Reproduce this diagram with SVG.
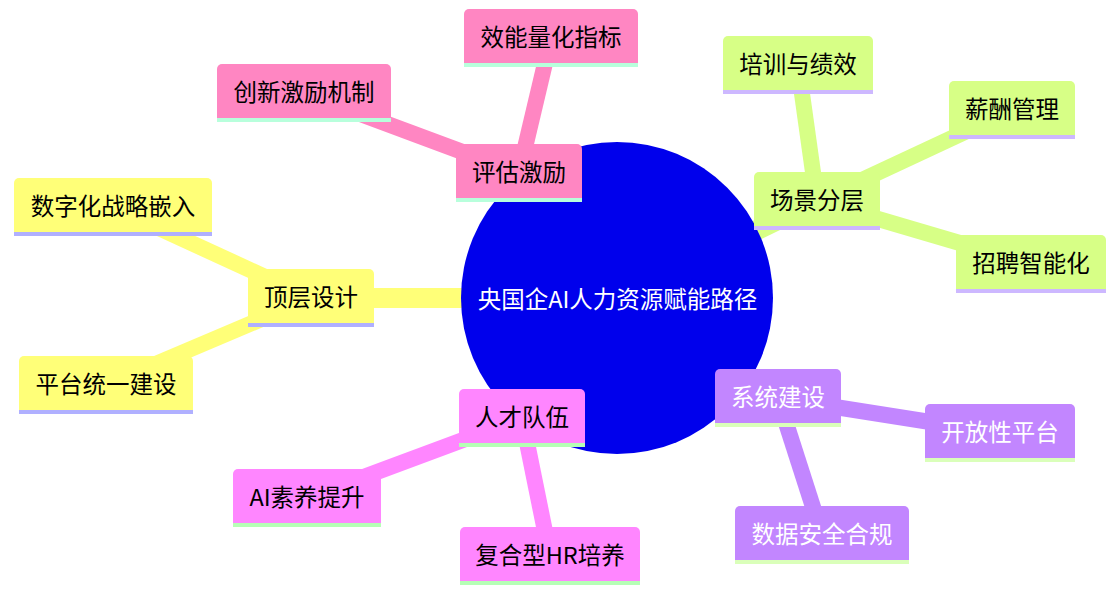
<svg xmlns="http://www.w3.org/2000/svg" width="1120" height="597" viewBox="0 0 1120 597">
<style>
.e{fill:none;stroke-linecap:butt}
.d0{stroke-width:20}
.d1{stroke-width:16}
.s0{stroke:#FFFF78}.s1{stroke:#D7FF86}.s2{stroke:#C286FF}.s3{stroke:#FF86FF}.s4{stroke:#FF86C2}
.n0 path{fill:#FFFF78}.n0 line{stroke:#B0B0FF}
.n1 path{fill:#D7FF86}.n1 line{stroke:#CDB8FF}
.n2 path{fill:#C286FF}.n2 line{stroke:#DAFFBA}
.n3 path{fill:#FF86FF}.n3 line{stroke:#B6FFB6}
.n4 path{fill:#FF86C2}.n4 line{stroke:#B8FFDC}
line{stroke-width:4}
text{font-family:"Noto Sans CJK SC","Liberation Sans",sans-serif;font-size:23.5px;text-anchor:middle;dominant-baseline:central;fill:#000}
.n2 text,.root text{fill:#fff}
</style>
<g id="connectors">
<line class="e d0 s0" x1="617" y1="298" x2="311" y2="298"/>
<line class="e d0 s1" x1="617" y1="298" x2="817" y2="201"/>
<line class="e d0 s2" x1="617" y1="298" x2="778" y2="398"/>
<line class="e d0 s3" x1="617" y1="298" x2="522" y2="418"/>
<line class="e d0 s4" x1="617" y1="298" x2="519" y2="173"/>
<line class="e d1 s0" x1="311" y1="298" x2="113" y2="207"/>
<line class="e d1 s0" x1="311" y1="298" x2="106" y2="385"/>
<line class="e d1 s1" x1="817" y1="201" x2="798" y2="65"/>
<line class="e d1 s1" x1="817" y1="201" x2="1012" y2="110"/>
<line class="e d1 s1" x1="817" y1="201" x2="1031" y2="264"/>
<line class="e d1 s2" x1="778" y1="398" x2="1000" y2="433"/>
<line class="e d1 s2" x1="778" y1="398" x2="822" y2="535"/>
<line class="e d1 s3" x1="522" y1="418" x2="307" y2="498"/>
<line class="e d1 s3" x1="522" y1="418" x2="550" y2="556"/>
<line class="e d1 s4" x1="519" y1="173" x2="551" y2="38"/>
<line class="e d1 s4" x1="519" y1="173" x2="304" y2="93"/>
</g>
<g id="root" class="root">
<circle cx="617" cy="298" r="156" fill="#0000EC"/>
<text x="617.5" y="298">央国企AI人力资源赋能路径</text>
</g>
<g id="n-dingceng" class="n0" transform="translate(248,269)">
<path d="M0,54 V5 A5,5 0 0 1 5,0 H121 A5,5 0 0 1 126,5 V54 Z"/>
<line x1="0" y1="56" x2="126" y2="56"/>
<text x="63" y="27">顶层设计</text>
</g>
<g id="n-shuzihua" class="n0" transform="translate(14,178)">
<path d="M0,54 V5 A5,5 0 0 1 5,0 H193 A5,5 0 0 1 198,5 V54 Z"/>
<line x1="0" y1="56" x2="198" y2="56"/>
<text x="99" y="27">数字化战略嵌入</text>
</g>
<g id="n-pingtai" class="n0" transform="translate(19,356)">
<path d="M0,54 V5 A5,5 0 0 1 5,0 H169 A5,5 0 0 1 174,5 V54 Z"/>
<line x1="0" y1="56" x2="174" y2="56"/>
<text x="87" y="27">平台统一建设</text>
</g>
<g id="n-changjing" class="n1" transform="translate(754,172)">
<path d="M0,54 V5 A5,5 0 0 1 5,0 H121 A5,5 0 0 1 126,5 V54 Z"/>
<line x1="0" y1="56" x2="126" y2="56"/>
<text x="63" y="27">场景分层</text>
</g>
<g id="n-peixun" class="n1" transform="translate(723,36)">
<path d="M0,54 V5 A5,5 0 0 1 5,0 H145 A5,5 0 0 1 150,5 V54 Z"/>
<line x1="0" y1="56" x2="150" y2="56"/>
<text x="75" y="27">培训与绩效</text>
</g>
<g id="n-xinchou" class="n1" transform="translate(949,81)">
<path d="M0,54 V5 A5,5 0 0 1 5,0 H121 A5,5 0 0 1 126,5 V54 Z"/>
<line x1="0" y1="56" x2="126" y2="56"/>
<text x="63" y="27">薪酬管理</text>
</g>
<g id="n-zhaopin" class="n1" transform="translate(956,235)">
<path d="M0,54 V5 A5,5 0 0 1 5,0 H145 A5,5 0 0 1 150,5 V54 Z"/>
<line x1="0" y1="56" x2="150" y2="56"/>
<text x="75" y="27">招聘智能化</text>
</g>
<g id="n-xitong" class="n2" transform="translate(715,369)">
<path d="M0,54 V5 A5,5 0 0 1 5,0 H121 A5,5 0 0 1 126,5 V54 Z"/>
<line x1="0" y1="56" x2="126" y2="56"/>
<text x="63" y="27">系统建设</text>
</g>
<g id="n-kaifang" class="n2" transform="translate(925,404)">
<path d="M0,54 V5 A5,5 0 0 1 5,0 H145 A5,5 0 0 1 150,5 V54 Z"/>
<line x1="0" y1="56" x2="150" y2="56"/>
<text x="75" y="27">开放性平台</text>
</g>
<g id="n-shuju" class="n2" transform="translate(735,506)">
<path d="M0,54 V5 A5,5 0 0 1 5,0 H169 A5,5 0 0 1 174,5 V54 Z"/>
<line x1="0" y1="56" x2="174" y2="56"/>
<text x="87" y="27">数据安全合规</text>
</g>
<g id="n-rencai" class="n3" transform="translate(459,389)">
<path d="M0,54 V5 A5,5 0 0 1 5,0 H121 A5,5 0 0 1 126,5 V54 Z"/>
<line x1="0" y1="56" x2="126" y2="56"/>
<text x="63" y="27">人才队伍</text>
</g>
<g id="n-aisuyang" class="n3" transform="translate(233,469)">
<path d="M0,54 V5 A5,5 0 0 1 5,0 H143 A5,5 0 0 1 148,5 V54 Z"/>
<line x1="0" y1="56" x2="148" y2="56"/>
<text x="74" y="27">AI素养提升</text>
</g>
<g id="n-fuhe" class="n3" transform="translate(460,527)">
<path d="M0,54 V5 A5,5 0 0 1 5,0 H175 A5,5 0 0 1 180,5 V54 Z"/>
<line x1="0" y1="56" x2="180" y2="56"/>
<text x="90" y="27">复合型HR培养</text>
</g>
<g id="n-pinggu" class="n4" transform="translate(456,144)">
<path d="M0,54 V5 A5,5 0 0 1 5,0 H121 A5,5 0 0 1 126,5 V54 Z"/>
<line x1="0" y1="56" x2="126" y2="56"/>
<text x="63" y="27">评估激励</text>
</g>
<g id="n-xiaoneng" class="n4" transform="translate(464,9)">
<path d="M0,54 V5 A5,5 0 0 1 5,0 H169 A5,5 0 0 1 174,5 V54 Z"/>
<line x1="0" y1="56" x2="174" y2="56"/>
<text x="87" y="27">效能量化指标</text>
</g>
<g id="n-chuangxin" class="n4" transform="translate(217,64)">
<path d="M0,54 V5 A5,5 0 0 1 5,0 H169 A5,5 0 0 1 174,5 V54 Z"/>
<line x1="0" y1="56" x2="174" y2="56"/>
<text x="87" y="27">创新激励机制</text>
</g>
</svg>
